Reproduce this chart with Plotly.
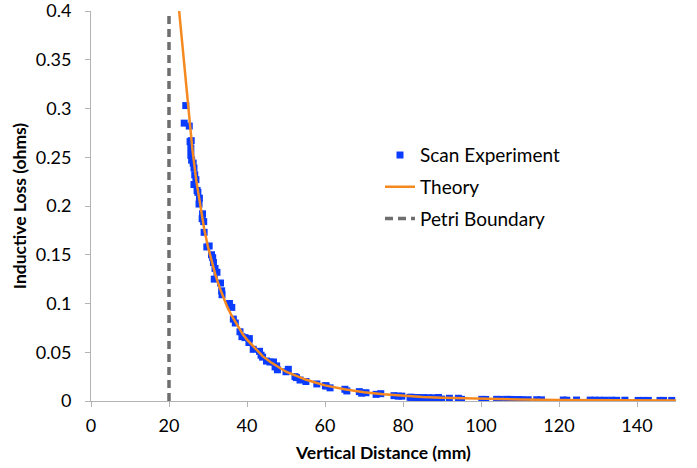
import plotly.graph_objects as go

# Measured inductive loss from the vertical scan (distance in mm, loss in ohms)
scan_mm = [
    23.9, 24.3, 25.2, 25.4, 25.7, 25.6, 25.6, 25.8, 26.2, 26.4, 26.6, 26.9, 26.4,
    27.2, 27.4, 27.8, 27.7, 28.6, 28.5, 28.9, 29.0, 29.7, 30.3, 30.9, 31.2, 31.4,
    31.8, 32.3, 31.6, 33.2, 33.5, 33.6, 35.5, 36.1, 36.5, 37.0, 38.2, 38.7, 39.5,
    40.5, 40.6, 41.6, 43.2, 43.6, 44.0, 45.0, 45.9, 46.8, 47.2, 47.6, 47.8, 50.0,
    50.6, 52.3, 52.7, 53.6, 55.1, 57.9, 60.1, 60.3, 61.3, 65.1, 65.6, 68.8, 69.4,
    70.5, 73.1, 74.3, 77.7, 78.8, 79.7, 81.8, 82.2, 83.5, 83.9, 85.2, 86.5, 87.8,
    89.1, 89.9, 91.9, 94.2, 95.0, 100.2, 101.2, 104.0, 104.9, 106.6, 107.5, 108.3,
    109.6, 110.4, 112.1, 114.3, 115.5, 121.1, 122.0, 124.5, 128.0, 129.2, 130.3,
    131.8, 133.5, 134.8, 136.9, 140.3, 141.6, 142.9, 145.9, 146.8, 148.9,
]
scan_ohms = [
    0.285, 0.303, 0.282, 0.266, 0.267, 0.259, 0.252, 0.247, 0.244, 0.239, 0.232, 0.227, 0.222,
    0.216, 0.214, 0.208, 0.202, 0.192, 0.187, 0.184, 0.173, 0.158, 0.159, 0.150, 0.147, 0.142,
    0.136, 0.132, 0.125, 0.121, 0.113, 0.109, 0.100, 0.096, 0.084, 0.080, 0.071, 0.066, 0.065,
    0.060, 0.064, 0.053, 0.051, 0.047, 0.045, 0.041, 0.040, 0.040, 0.035, 0.036, 0.032, 0.030,
    0.0325, 0.025, 0.024, 0.0215, 0.020, 0.0175, 0.0157, 0.0154, 0.0135, 0.012, 0.0103, 0.0096, 0.008,
    0.0085, 0.0068, 0.0075, 0.0055, 0.005, 0.005, 0.0038, 0.0038, 0.0034, 0.0036, 0.0035, 0.0034, 0.0033,
    0.0036, 0.002, 0.0028, 0.0028, 0.0017, 0.0017, 0.0016, 0.0017, 0.0016, 0.0017, 0.0016, 0.0015,
    0.0015, 0.0014, 0.0013, 0.0013, 0.0012, 0.001, 0.0008, 0.001, 0.0009, 0.0008, 0.0008,
    0.0008, 0.0008, 0.0007, 0.0008, 0.0006, 0.0006, 0.0006, 0.0006, 0.0006, 0.0006,
]

# Theoretical loss curve
theory_mm = [22.6, 23, 24, 25, 26, 27, 28, 29, 30, 31, 32, 33, 34, 35, 36, 37, 38, 39, 40,
             42, 44, 46, 48, 50, 52.5, 55, 57.5, 60, 65, 70, 75, 80, 85, 90, 100, 110,
             120, 130, 140, 150]
theory_ohms = [0.4, 0.383, 0.342, 0.297, 0.258, 0.226, 0.199, 0.177, 0.158, 0.142, 0.128,
               0.116, 0.105, 0.096, 0.088, 0.081, 0.074, 0.068, 0.063, 0.054, 0.046, 0.040,
               0.035, 0.030, 0.026, 0.022, 0.019, 0.016, 0.012, 0.009, 0.007, 0.0053, 0.0042,
               0.0033, 0.0022, 0.0015, 0.0011, 0.0008, 0.0006, 0.0005]

# Petri dish wall position
boundary_mm = [20, 20]
boundary_ohms = [0, 0.4]

x_ticks = [0, 20, 40, 60, 80, 100, 120, 140]
y_ticks = [0, 0.05, 0.1, 0.15, 0.2, 0.25, 0.3, 0.35, 0.4]

FONT = "Lato"
AXIS_GREY = "#b3b3b3"

fig = go.Figure()

fig.add_trace(go.Scatter(
    x=scan_mm, y=scan_ohms, mode="markers", name="Scan Experiment",
    legendgroup="a",
    marker=dict(symbol="square", size=7, color="#0a3cff", line=dict(width=0)),
))
fig.add_trace(go.Scatter(
    x=theory_mm, y=theory_ohms, mode="lines", name="Theory",
    legendgroup="b",
    line=dict(color="#f5891f", width=2.5),
))
fig.add_trace(go.Scatter(
    x=boundary_mm, y=boundary_ohms, mode="lines", name="Petri Boundary",
    legendgroup="c",
    line=dict(color="#6e6e6e", width=3.5, dash="8px,5px"),
))

fig.update_layout(
    width=697, height=468,
    margin=dict(l=91, r=21, t=11, b=67),
    paper_bgcolor="white", plot_bgcolor="white",
    font=dict(family=FONT, size=18, color="black"),
    showlegend=True,
    legend=dict(
        x=0.494, y=0.679, xanchor="left", yanchor="top",
        font=dict(family=FONT, size=19, color="black"),
        tracegroupgap=4, bgcolor="rgba(0,0,0,0)",
    ),
    xaxis=dict(
        range=[0, 150], tickvals=x_ticks, showgrid=False, zeroline=False,
        showline=True, linecolor=AXIS_GREY, linewidth=1,
        ticks="outside", ticklen=5, tickcolor=AXIS_GREY,
        ticklabelstandoff=3, automargin=False, ticklabeloverflow="allow",
        title=dict(text="<b>Vertical Distance (mm)</b>", font=dict(size=17.5), standoff=12),
    ),
    yaxis=dict(
        range=[0, 0.4], tickvals=y_ticks, showgrid=False, zeroline=False,
        showline=True, linecolor=AXIS_GREY, linewidth=1,
        ticks="outside", ticklen=5, tickcolor=AXIS_GREY,
        ticklabelstandoff=10, automargin=False, ticklabeloverflow="allow",
        title=dict(text="<b>Inductive Loss (ohms)</b>", font=dict(size=17.5), standoff=4),
    ),
)

fig.write_html("out.html")
